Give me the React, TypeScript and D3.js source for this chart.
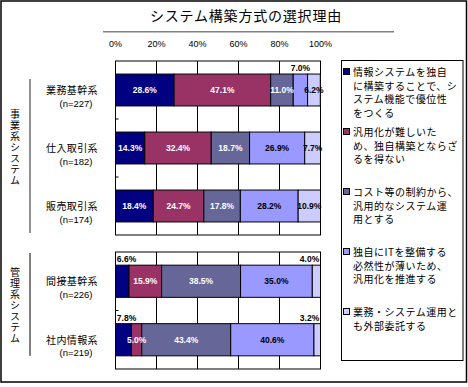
import React from 'react'
import * as d3 from 'd3';

const categories = ['業務基幹系', '仕入取引系', '販売取引系', '間接基幹系', '社内情報系'];
const sampleSizes = ['(n=227)', '(n=182)', '(n=174)', '(n=226)', '(n=219)'];
const groupNames = ['事業系システム', '管理系システム'];
const groupOf = [0, 0, 0, 1, 1];

const seriesKeys = ['s1', 's2', 's3', 's4', 's5'];
const s1 = [28.6, 14.3, 18.4, 6.6, 7.8];
const s2 = [47.1, 32.4, 24.7, 15.9, 5.0];
const s3 = [11.0, 18.7, 17.8, 38.5, 43.4];
const s4 = [7.0, 26.9, 28.2, 35.0, 40.6];
const s5 = [6.2, 7.7, 10.9, 4.0, 3.2];
const seriesColors = ['#000080', '#993366', '#666699', '#9999ff', '#ccccff'];
const labelColors = ['#ffffff', '#ffffff', '#ffffff', '#000000', '#000000'];

const legendLines = [
  ['情報システムを独自', 'に構築することで、シ', 'ステム機能で優位性', 'をつくる'],
  ['汎用化が難しいた', 'め、独自構築とならざ', 'るを得ない'],
  ['コスト等の制約から、', '汎用的なシステム運', '用とする'],
  ['独自にITを整備する', '必然性が薄いため、', '汎用化を推進する'],
  ['業務・システム運用と', 'も外部委託する'],
];

const ticks = [0, 20, 40, 60, 80, 100];
// labels drawn above the bar (row index, series index)
const aboveLabels = ['0-3', '3-0', '3-4', '4-0', '4-4'];

const jp = '"Noto Sans CJK JP", sans-serif';
const lat = '"Liberation Sans", Arial, sans-serif';

const rows = categories.map((c, i) => ({
  cat: c, n: sampleSizes[i], group: groupOf[i],
  s1: s1[i], s2: s2[i], s3: s3[i], s4: s4[i], s5: s5[i],
}));

const App = () => {
  const x = d3.scaleLinear().domain([0, 100]).range([115.5, 320.5]);
  const plots = [
    { top: 61, bottom: 235 },
    { top: 252, bottom: 369 },
  ];
  const stack = d3.stack<any>().keys(seriesKeys);

  return (
    <svg width={468} height={387} style={{ position: 'absolute', left: 0, top: 0, background: '#fff' }}>
      <rect x={1} y={1} width={465.5} height={381} fill='#fff' stroke='#000' strokeWidth={1.5} />

      <text x={150} y={20.5} fontFamily={jp} fontSize={14} letterSpacing={0.8} fill='#000'>
        システム構築方式の選択理由
      </text>
      <line x1={103} x2={394} y1={31.5} y2={31.5} stroke='#808080' />
      <line x1={103} x2={394} y1={32.5} y2={32.5} stroke='#c0c0c0' />

      {ticks.map(t => (
        <text key={t} x={x(t)} y={47} textAnchor='middle' fontFamily={lat} fontSize={9} fill='#000'>{t}%</text>
      ))}

      {plots.map((p, gi) => {
        const gRows = rows.filter(r => r.group === gi);
        const y = d3.scaleBand<string>().domain(gRows.map(r => r.cat))
          .range([p.top, p.bottom]).paddingInner(0.45).paddingOuter(0.225);
        const stacked = stack(gRows);
        const bw = y.bandwidth();
        const centers = gRows.map(r => (y(r.cat) as number) + bw / 2);
        const gCenter = (d3.mean(centers) as number) - (gi === 0 ? 0 : 5);
        const lineTop = gi === 0 ? (y(gRows[0].cat) as number) + 5 : p.top + 1;
        const lineBottom = gi === 0 ? p.bottom - 2 : (y(gRows[gRows.length - 1].cat) as number) + bw;
        return (
          <g key={gi}>
            <rect x={x(0)} y={p.top} width={x(100) - x(0)} height={p.bottom - p.top} fill='#fff' stroke='#000' />
            {ticks.slice(1, -1).map(t => (
              <line key={t} x1={x(t)} x2={x(t)} y1={p.top} y2={p.bottom} stroke='#000' />
            ))}
            {gRows.slice(1).map(r => {
              const yy = (y(r.cat) as number) - y.step() * y.paddingInner() / 2;
              return <line key={r.cat} x1={x(0)} x2={x(0) + 3} y1={yy} y2={yy} stroke='#000' />;
            })}
            {stacked.map((s, si) => s.map((d, ri) => (
              <rect key={si + '-' + ri} x={x(d[0])} y={y(gRows[ri].cat)} width={x(d[1]) - x(d[0])} height={bw}
                fill={seriesColors[si]} stroke='#000' strokeWidth={1} />
            )))}
            {stacked.map((s, si) => s.map((d, ri) => {
              const rowIdx = rows.indexOf(gRows[ri]);
              const above = aboveLabels.includes(rowIdx + '-' + si);
              const val = (d[1] - d[0]).toFixed(1) + '%';
              let cx = (x(d[0]) + x(d[1])) / 2;
              const by = y(gRows[ri].cat) as number;
              if (above) cx = Math.max(x(0) + 11, Math.min(x(100) - 11, cx));
              return (
                <text key={'l' + si + '-' + ri} x={cx} y={above ? by - 3 : by + bw / 2 + 3}
                  textAnchor='middle' fontFamily={lat} fontWeight='bold' fontSize={8.5}
                  fill={above ? '#000' : labelColors[si]}>{val}</text>
              );
            }))}
            {gRows.map((r, ri) => (
              <g key={r.cat}>
                <text x={72} y={centers[ri] + 4} textAnchor='middle' fontFamily={jp} fontSize={10} letterSpacing={0.4}>{r.cat}</text>
                <text x={76} y={centers[ri] + 16.5} textAnchor='middle' fontFamily={lat} fontSize={9.5}>{r.n}</text>
              </g>
            ))}
            <line x1={30} x2={30} y1={lineTop} y2={lineBottom}
              stroke={gi === 0 ? '#909090' : '#000'} strokeWidth={gi === 0 ? 2 : 1} />
            <text x={15} y={gCenter} textAnchor='middle' fontFamily={jp} fontSize={10}
              letterSpacing={1} style={{ writingMode: 'vertical-rl' }}>{groupNames[gi]}</text>
          </g>
        );
      })}

      <rect x={341.5} y={60.5} width={121.5} height={300} fill='#fff' stroke='#000' />
      {legendLines.map((lines, i) => {
        const top = 72 + i * 60;
        return (
          <g key={i}>
            <rect x={343.5} y={top - 3.5} width={6} height={6} fill={seriesColors[i]} stroke='#000' />
            {lines.map((ln, li) => (
              <text key={li} x={353} y={top + li * 13.8 + 3.8} fontFamily={jp} fontSize={10} letterSpacing={0.5}>{ln}</text>
            ))}
          </g>
        );
      })}
    </svg>
  )
}

export default App
